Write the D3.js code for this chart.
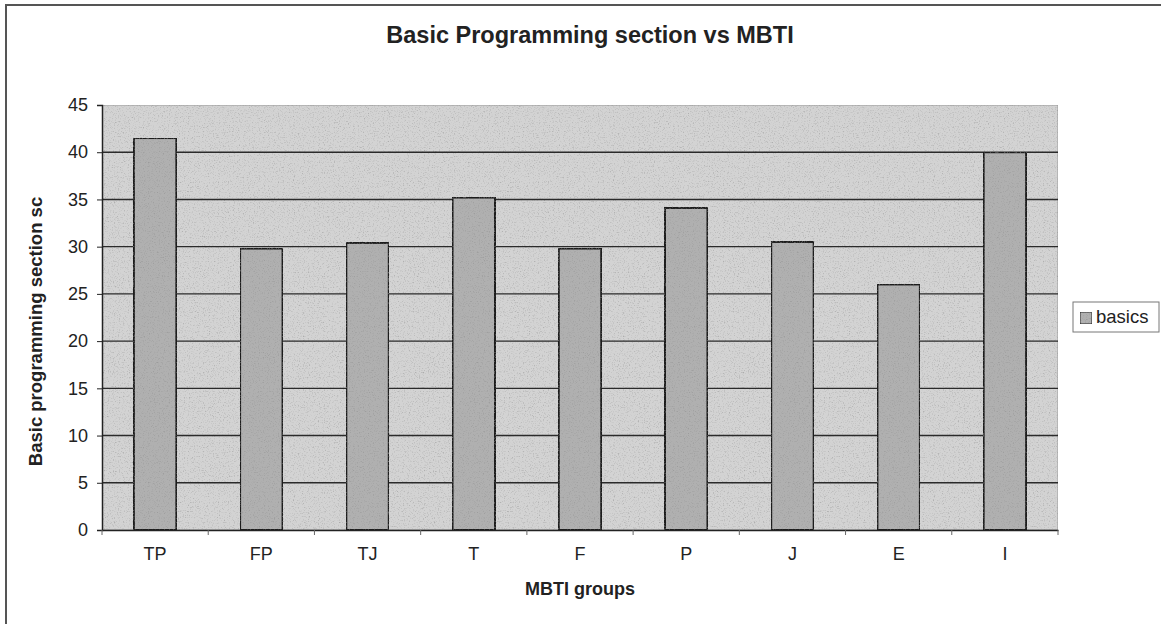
<!DOCTYPE html>
<html>
<head>
<meta charset="utf-8">
<script src="https://cdn.jsdelivr.net/npm/d3@7"></script>
<style>
  body { margin: 0; background: #fff; }
  svg { display: block; font-family: "Liberation Sans", Arial, sans-serif; }
</style>
</head>
<body>
<svg id="chart" width="1161" height="624"></svg>
<script>
// data
const categories = ["TP", "FP", "TJ", "T", "F", "P", "J", "E", "I"];
const basics = [41.5, 29.8, 30.4, 35.2, 29.8, 34.1, 30.5, 26.0, 40.0];
const yTicks = [0, 5, 10, 15, 20, 25, 30, 35, 40, 45];
const seriesName = "basics";

const svg = d3.select("#chart");
const margin = { top: 105, right: 103, bottom: 94, left: 102 };
const width = 1161 - margin.left - margin.right;
const height = 624 - margin.top - margin.bottom;

// grainy scan look
const defs = svg.append("defs");
const grain = defs.append("filter").attr("id", "grain")
  .attr("x", 0).attr("y", 0).attr("width", 1).attr("height", 1);
grain.append("feTurbulence").attr("type", "fractalNoise")
  .attr("baseFrequency", 0.8).attr("numOctaves", 2).attr("seed", 3).attr("result", "noise");
grain.append("feColorMatrix").attr("in", "noise").attr("type", "matrix")
  .attr("values", "0 0 0 0 0.25  0 0 0 0 0.25  0 0 0 0 0.25  0 0 0 -1.6 0.75").attr("result", "dots");
grain.append("feComposite").attr("in", "dots").attr("in2", "SourceGraphic").attr("operator", "in").attr("result", "spk");
grain.append("feMerge").call(m => {
  m.append("feMergeNode").attr("in", "SourceGraphic");
  m.append("feMergeNode").attr("in", "spk");
});

// outer frame
svg.append("path")
  .attr("d", "M6,624 L6,5 L1161,5")
  .attr("fill", "none").attr("stroke", "#555").attr("stroke-width", 2);

const g = svg.append("g").attr("transform", "translate(" + margin.left + "," + margin.top + ")");

const x = d3.scaleBand().domain(categories).range([0, width]).paddingInner(0).paddingOuter(0);
const y = d3.scaleLinear().domain([0, 45]).range([height, 0]);

// plot background
g.append("rect")
  .attr("width", width).attr("height", height)
  .attr("fill", "#d3d3d3").attr("stroke", "#999").attr("stroke-width", 1)
  .attr("filter", "url(#grain)");

// gridlines
g.append("g")
  .selectAll("line")
  .data(yTicks.filter(d => d > 0 && d < 45))
  .enter().append("line")
  .attr("x1", 0).attr("x2", width)
  .attr("y1", d => y(d)).attr("y2", d => y(d))
  .attr("stroke", "#2a2a2a").attr("stroke-width", 1.4);

// bars
const barW = x.bandwidth() / 2.5;
g.selectAll(".bar")
  .data(basics)
  .enter().append("rect")
  .attr("class", "bar")
  .attr("x", (d, i) => x(categories[i]) + (x.bandwidth() - barW) / 2)
  .attr("y", d => y(d))
  .attr("width", barW)
  .attr("height", d => height - y(d))
  .attr("fill", "#b0b0b0")
  .attr("stroke", "#1a1a1a").attr("stroke-width", 2)
  .attr("filter", "url(#grain)");

// y axis
const yAxis = g.append("g")
  .call(d3.axisLeft(y).tickValues(yTicks).tickSize(5).tickPadding(9));
yAxis.select(".domain").attr("stroke", "#222").attr("stroke-width", 1.5);
yAxis.selectAll(".tick line").attr("stroke", "#222");
yAxis.selectAll("text").attr("font-size", "18px").attr("fill", "#222")
  .attr("font-family", "Liberation Sans, Arial, sans-serif");

// x axis
const xAxis = g.append("g")
  .attr("transform", "translate(0," + height + ")")
  .call(d3.axisBottom(x).tickSize(0).tickPadding(17));
xAxis.select(".domain").attr("stroke", "#222").attr("stroke-width", 1.5);
xAxis.selectAll("text").attr("font-size", "18px").attr("fill", "#222")
  .attr("font-family", "Liberation Sans, Arial, sans-serif");
g.append("g").selectAll("line")
  .data(d3.range(categories.length + 1))
  .enter().append("line")
  .attr("x1", i => i * x.step()).attr("x2", i => i * x.step())
  .attr("y1", height).attr("y2", height + 5)
  .attr("stroke", "#666");

// titles
svg.append("text")
  .attr("x", 590).attr("y", 43)
  .attr("text-anchor", "middle")
  .attr("font-size", "23.5px").attr("font-weight", "bold").attr("fill", "#222")
  .text("Basic Programming section vs MBTI");

svg.append("text")
  .attr("x", margin.left + width / 2).attr("y", 595)
  .attr("text-anchor", "middle")
  .attr("font-size", "18px").attr("font-weight", "bold").attr("fill", "#222")
  .text("MBTI groups");

svg.append("text")
  .attr("transform", "translate(42," + (margin.top + height / 2 + 14) + ") rotate(-90)")
  .attr("text-anchor", "middle")
  .attr("font-size", "18.5px").attr("font-weight", "bold").attr("fill", "#222")
  .text("Basic programming section sc");

// legend
const lg = svg.append("g").attr("transform", "translate(1073,302)");
lg.append("rect").attr("width", 86).attr("height", 30)
  .attr("fill", "#fff").attr("stroke", "#777").attr("stroke-width", 1);
lg.append("rect").attr("x", 7).attr("y", 10).attr("width", 12).attr("height", 12)
  .attr("fill", "#b0b0b0").attr("stroke", "#222").attr("stroke-width", 1)
  .attr("filter", "url(#grain)");
lg.append("text").attr("x", 23).attr("y", 21)
  .attr("font-size", "18.5px").attr("fill", "#222")
  .text(seriesName);
</script>
</body>
</html>
